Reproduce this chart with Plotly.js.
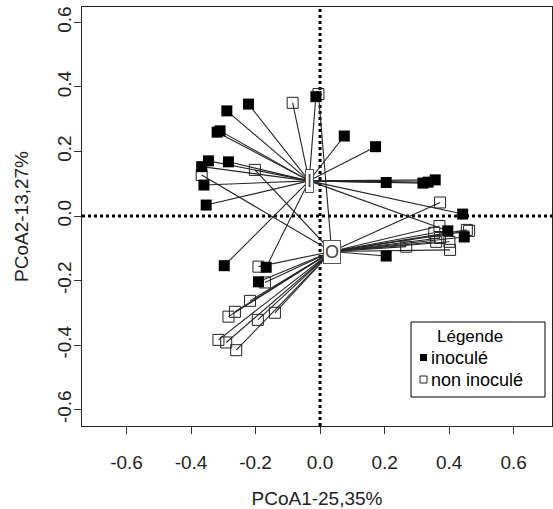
<!DOCTYPE html>
<html><head><meta charset="utf-8">
<script src="https://cdn.plot.ly/plotly-3.0.1.min.js"></script>
<style>html,body{margin:0;padding:0;background:#fff}#chart{width:553px;height:509px}</style>
</head><body><div id="chart"></div>
<script>
// ---- data ----
const groupNames = ['I', 'O'];
const centroidX = [-0.034, 0.036];
const centroidY = [0.109, -0.110];

// points linked to centroid I
const iFilledX = [-0.289, -0.222, -0.319, -0.310, -0.346, -0.367, -0.284, -0.360, -0.353, -0.013, 0.075, 0.172, 0.205, 0.319, 0.335, 0.357, 0.442, 0.396, -0.297, -0.167];
const iFilledY = [0.326, 0.347, 0.260, 0.264, 0.171, 0.153, 0.168, 0.096, 0.034, 0.370, 0.248, 0.215, 0.104, 0.102, 0.105, 0.112, 0.006, -0.046, -0.154, -0.159];
const iOpenX = [-0.085];
const iOpenY = [0.351];

// points linked to centroid O
const oFilledX = [0.447, 0.205, -0.191];
const oFilledY = [-0.065, -0.124, -0.204];
const oOpenX = [-0.005, -0.202, -0.367, 0.372, -0.191, -0.171, -0.217, -0.284, -0.264, -0.193, -0.140, -0.315, -0.291, -0.260, 0.370, 0.455, 0.462, 0.354, 0.360, 0.401, 0.403, 0.267, 0.372];
const oOpenY = [0.378, 0.143, 0.127, 0.042, -0.157, -0.206, -0.263, -0.312, -0.297, -0.322, -0.300, -0.384, -0.392, -0.416, -0.031, -0.043, -0.046, -0.052, -0.080, -0.080, -0.105, -0.095, -0.068];

const tickVals = [-0.6, -0.4, -0.2, 0.0, 0.2, 0.4, 0.6];
const tickLabels = ['-0.6', '-0.4', '-0.2', '0.0', '0.2', '0.4', '0.6'];
const xTitle = 'PCoA1-25,35%';
const yTitle = 'PCoA2-13,27%';
const legendTitle = 'Légende';
const legendLabels = ['inoculé', 'non inoculé'];

// ---- build spider segments from the data ----
function spider(cx, cy, xs, ys) {
  const sx = [], sy = [];
  for (let k = 0; k < xs.length; k++) { sx.push(cx, xs[k], null); sy.push(cy, ys[k], null); }
  return {sx, sy};
}
const segI1 = spider(centroidX[0], centroidY[0], iFilledX, iFilledY);
const segI2 = spider(centroidX[0], centroidY[0], iOpenX, iOpenY);
const segO1 = spider(centroidX[1], centroidY[1], oFilledX, oFilledY);
const segO2 = spider(centroidX[1], centroidY[1], oOpenX, oOpenY);
const segX = [].concat(segI1.sx, segI2.sx, segO1.sx, segO2.sx);
const segY = [].concat(segI1.sy, segI2.sy, segO1.sy, segO2.sy);

const FONT = 'Liberation Sans, Arial, sans-serif';
const traces = [
  {x: segX, y: segY, mode: 'lines', line: {color: '#262626', width: 1.1}, hoverinfo: 'skip', showlegend: false},
  {x: [].concat(iOpenX, oOpenX), y: [].concat(iOpenY, oOpenY), mode: 'markers', name: legendLabels[1],
   marker: {symbol: 'square-open', size: 11, color: '#222', line: {width: 1, color: '#222'}}, showlegend: false},
  {x: [].concat(iFilledX, oFilledX), y: [].concat(iFilledY, oFilledY), mode: 'markers', name: legendLabels[0],
   marker: {symbol: 'square', size: 11, color: '#000', line: {width: 0}}, showlegend: false}
];

// layout geometry (pixels)
const W = 553, H = 509, ML = 82, MR = 1, MT = 7, MB = 83;
const PW = W - ML - MR, PH = H - MT - MB;
const px = v => (v - ML) / PW;
const py = v => (H - MB - v) / PH;

const annotations = groupNames.map((g, k) => ({
  x: centroidX[k], y: centroidY[k], xref: 'x', yref: 'y', text: g, showarrow: false,
  font: {family: FONT, size: 18, color: '#444'}, bgcolor: '#fff', bordercolor: '#555', borderwidth: 1, borderpad: 1
}));
annotations.push(
  {x: px(470), y: py(336), xref: 'paper', yref: 'paper', text: legendTitle, showarrow: false, xanchor: 'center', yanchor: 'middle', font: {family: FONT, size: 17, color: '#000'}},
  {x: px(429), y: py(358), xref: 'paper', yref: 'paper', text: legendLabels[0], showarrow: false, xanchor: 'left', yanchor: 'middle', font: {family: FONT, size: 18, color: '#000'}},
  {x: px(429), y: py(380), xref: 'paper', yref: 'paper', text: legendLabels[1], showarrow: false, xanchor: 'left', yanchor: 'middle', font: {family: FONT, size: 18, color: '#000'}}
);

const shapes = [
  {type: 'line', xref: 'x', yref: 'paper', x0: 0, x1: 0, y0: 0, y1: 1, line: {color: '#000', width: 3, dash: 'dot'}, layer: 'below'},
  {type: 'line', xref: 'paper', yref: 'y', x0: 0, x1: 1, y0: 0, y1: 0, line: {color: '#000', width: 3, dash: 'dot'}, layer: 'below'},
  {type: 'rect', xref: 'paper', yref: 'paper', x0: px(411), x1: px(545), y0: py(322), y1: py(397), line: {color: '#000', width: 1}, fillcolor: '#fff'},
  {type: 'rect', xref: 'paper', yref: 'paper', x0: px(420), x1: px(427), y0: py(361), y1: py(354), line: {color: '#000', width: 0}, fillcolor: '#000'},
  {type: 'rect', xref: 'paper', yref: 'paper', x0: px(420), x1: px(427), y0: py(383), y1: py(376), line: {color: '#222', width: 1}, fillcolor: 'rgba(0,0,0,0)'}
];

const axisCommon = {
  tickvals: tickVals, ticktext: tickLabels, ticks: 'outside', ticklen: 7, tickcolor: '#333', tickwidth: 1,
  showline: true, mirror: true, linecolor: '#222', linewidth: 1, showgrid: false, zeroline: false,
  tickfont: {family: FONT, size: 19, color: '#222'}, automargin: false
};
const layout = {
  width: W, height: H, margin: {l: ML, r: MR, t: MT, b: MB},
  paper_bgcolor: '#fff', plot_bgcolor: '#fff', showlegend: false,
  xaxis: Object.assign({}, axisCommon, {range: [-0.738, 0.719], ticklabelstandoff: 12,
    title: {text: xTitle, font: {family: FONT, size: 19, color: '#222'}, standoff: 23}}),
  yaxis: Object.assign({}, axisCommon, {range: [-0.651, 0.648], tickangle: -90, ticklabelstandoff: -5,
    title: {text: yTitle, font: {family: FONT, size: 19, color: '#222'}, standoff: 20}}),
  annotations: annotations, shapes: shapes
};
Plotly.newPlot('chart', traces, layout, {displayModeBar: false, staticPlot: true});
</script></body></html>
